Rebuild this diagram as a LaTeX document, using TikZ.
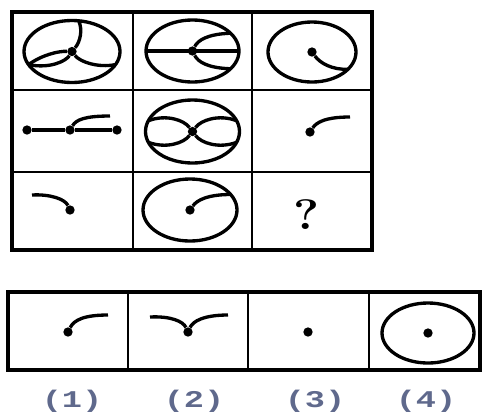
\documentclass[tikz,border=0pt]{standalone}
\usepackage{fontspec}
\newfontfamily\labelfont{Liberation Mono}
\definecolor{labelblue}{RGB}{95,105,140}

\begin{document}
\begin{tikzpicture}
	[x=0.75pt,y=-0.75pt,
	frame/.style={line width=2.4pt},
	sep/.style={line width=2pt},
	fig/.style={line width=2.5pt},
	blob/.style={circle,fill,inner sep=0pt,minimum size=7pt},
	opt/.style={text=labelblue,font=\labelfont\bfseries\fontsize{18}{18}\selectfont}]
	\useasboundingbox (0,0) rectangle (482,412);
	% puzzle grid
	\draw[frame] (12,12) rectangle (372,250);
	\draw[sep] (133,12) -- (133,250);
	\draw[sep] (252,12) -- (252,250);
	\draw[sep] (12,90) -- (372,90);
	\draw[sep] (12,172) -- (372,172);
	% row 1
	\node[blob] (a0) at (72,51.5) {};
	\draw[fig] (a0.center) ellipse [x radius=48, y radius=31];
	\path (a0.center) +(-82:48 and 31) coordinate (a1)
		+(25:48 and 31) coordinate (a2)
		+(155:48 and 31) coordinate (a3);
	\draw[fig] (a0) .. controls (80,42) and (83,30) .. (a1);
	\draw[fig] (a0) .. controls (80,62) and (98,68) .. (a2);
	\draw[fig] (a0) .. controls (58,51) and (42,55) .. (a3);
	\draw[fig] (a0) .. controls (66,61) and (50,69) .. (a3);
	\node[blob] (b0) at (192.5,51) {};
	\draw[fig] (b0.center) ellipse [x radius=46.5, y radius=31];
	\path (b0.center) +(180:46.5 and 31) coordinate (b1)
		+(0:46.5 and 31) coordinate (b2)
		+(-35:46.5 and 31) coordinate (b3)
		+(35:46.5 and 31) coordinate (b4);
	\draw[fig] (b1) -- (b2);
	\draw[fig] (b0) .. controls (198,40) and (208,34) .. (b3);
	\draw[fig] (b0) .. controls (198,62) and (208,68) .. (b4);
	\node[blob] (d0) at (312,52) {};
	\draw[fig] (d0.center) ellipse [x radius=44, y radius=30];
	\path (d0.center) +(35:44 and 30) coordinate (d1);
	\draw[fig] (d0) .. controls (320,63) and (332,70) .. (d1);
	% row 2
	\node[blob] (e1) at (27,130) {};
	\node[blob] (e2) at (70,130) {};
	\node[blob] (e3) at (117,130) {};
	\coordinate (e4) at (110,116);
	\draw[fig] (e1) -- (e2) -- (e3);
	\draw[fig] (e2) .. controls (76,120) and (84,116) .. (e4);
	\node[blob] (c0) at (192.5,131.5) {};
	\draw[fig] (c0.center) ellipse [x radius=47, y radius=31.5];
	\path (c0.center) +(-160:47 and 31.5) coordinate (c1)
		+(-20:47 and 31.5) coordinate (c2)
		+(160:47 and 31.5) coordinate (c3)
		+(20:47 and 31.5) coordinate (c4);
	\draw[fig] (c0) .. controls (184,120) and (166,114) .. (c1);
	\draw[fig] (c0) .. controls (201,120) and (219,114) .. (c2);
	\draw[fig] (c0) .. controls (184,143) and (166,149) .. (c3);
	\draw[fig] (c0) .. controls (201,143) and (219,149) .. (c4);
	\node[blob] (f0) at (310,132) {};
	\coordinate (f1) at (350,117);
	\draw[fig] (f0) .. controls (316,123) and (324,117) .. (f1);
	% row 3
	\node[blob] (g0) at (70,210) {};
	\coordinate (g1) at (32,195);
	\draw[fig] (g1) .. controls (50,194) and (65,199) .. (g0);
	\node[blob] (h0) at (190,210) {};
	\draw[fig] (h0.center) ellipse [x radius=47, y radius=31];
	\path (h0.center) +(-30:47 and 31) coordinate (h1);
	\draw[fig] (h0) .. controls (197,200) and (208,194.5) .. (h1);
	\node (q) at (307,215) {\scalebox{1.15}[1]{\fontsize{32}{32}\selectfont\bfseries ?}};
	% answer row
	\draw[frame] (8,292) rectangle (480,370);
	\draw[sep] (128,292) -- (128,370);
	\draw[sep] (248,292) -- (248,370);
	\draw[sep] (369,292) -- (369,370);
	\node[blob] (o1) at (68,332) {};
	\coordinate (o1a) at (108,315);
	\draw[fig] (o1) .. controls (74,320) and (84,315) .. (o1a);
	\node[blob] (o2) at (188,332) {};
	\coordinate (o2a) at (150,317);
	\coordinate (o2b) at (228,315);
	\draw[fig] (o2a) .. controls (170,316) and (183,321) .. (o2);
	\draw[fig] (o2) .. controls (193,321) and (204,315) .. (o2b);
	\node[blob] (o3) at (308,332) {};
	\node[blob] (o4) at (428,333) {};
	\draw[fig] (o4.center) ellipse [x radius=46, y radius=30];
	\node[opt] (l1) at (72,401) {\scalebox{1.4}[1]{(1)}};
	\node[opt] (l2) at (194,401) {\scalebox{1.4}[1]{(2)}};
	\node[opt] (l3) at (315,401) {\scalebox{1.4}[1]{(3)}};
	\node[opt] (l4) at (426,401) {\scalebox{1.4}[1]{(4)}};
\end{tikzpicture}
\end{document}
